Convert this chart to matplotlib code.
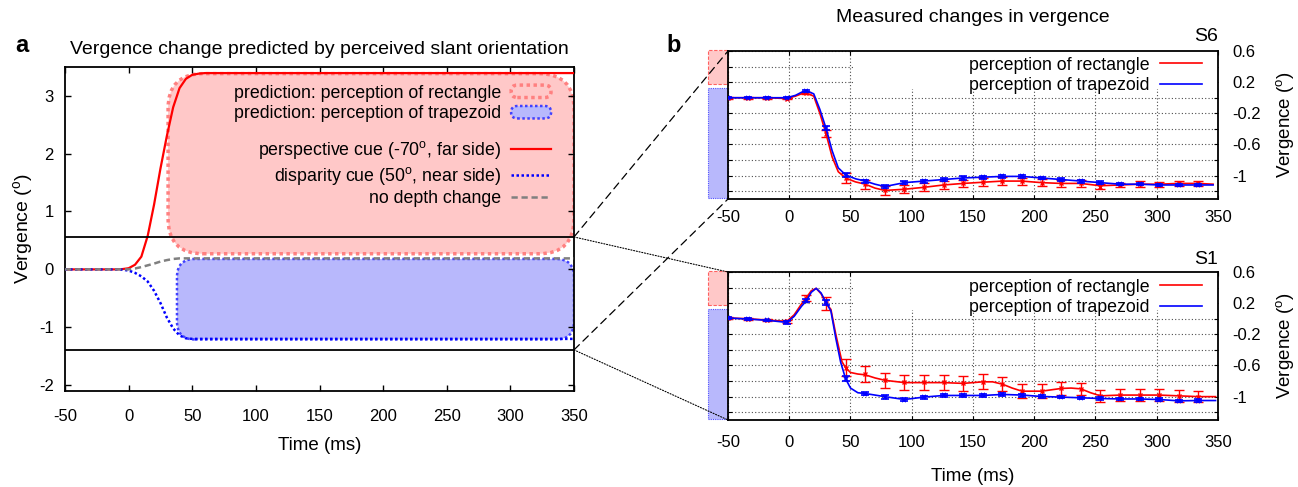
import matplotlib
matplotlib.use("Agg")
import matplotlib.pyplot as plt
from matplotlib.patches import FancyBboxPatch, Rectangle, ConnectionPatch
from matplotlib.legend_handler import HandlerPatch

plt.rcParams['font.family'] = ['Liberation Sans', 'DejaVu Sans']
plt.rcParams['mathtext.fontset'] = 'custom'
plt.rcParams['mathtext.rm'] = 'Liberation Sans'
plt.rcParams['mathtext.it'] = 'Liberation Sans:italic'
plt.rcParams['axes.unicode_minus'] = False

# ---- panel a : predicted vergence ----
time_a = [-50, -10, -5, 0, 5, 10, 15, 20, 25, 30, 35, 40, 45, 50, 55, 60, 350]
perspective_cue = [0, 0, 0.005, 0.02, 0.08, 0.22, 0.58, 1.12, 1.74, 2.3, 2.8, 3.13, 3.29, 3.36, 3.38, 3.39, 3.39]
disparity_cue = [0, 0, -0.005, -0.02, -0.06, -0.12, -0.21, -0.37, -0.58, -0.83, -1.02, -1.14, -1.19, -1.2, -1.2, -1.2, -1.2]
no_depth = [0, 0, 0, 0, 0.015, 0.04, 0.07, 0.1, 0.135, 0.16, 0.18, 0.19, 0.19, 0.19, 0.19, 0.19, 0.19]

# predicted zones: (t start, t end, v low, v high)
zone_rect = (31, 350, 0.27, 3.38)
zone_trap = (38, 350, -1.21, 0.18)
zoom_box = [0.56, -1.39]

# ---- panel b : measured vergence ----
times_b = [-50, -34, -18, -2, 14, 30, 46, 62, 78, 94, 110, 126, 142, 158,
           174, 190, 206, 222, 238, 254, 270, 286, 302, 318, 334]

s6_rect = [0, 0, 0, -0.01, 0.06, -0.46, -1.03, -1.11, -1.19, -1.175, -1.15, -1.12, -1.10,
           -1.085, -1.07, -1.07, -1.09, -1.10, -1.10, -1.14, -1.12, -1.11, -1.11, -1.10, -1.10]
s6_rect_err = [0.01, 0.01, 0.01, 0.01, 0.015, 0.05, 0.06, 0.06, 0.055, 0.05, 0.05, 0.05, 0.05,
               0.05, 0.05, 0.045, 0.045, 0.05, 0.045, 0.035, 0.03, 0.04, 0.03, 0.035, 0.03]
s6_trap = [0, 0, 0, 0, 0.09, -0.39, -0.99, -1.07, -1.14, -1.09, -1.07, -1.05, -1.03,
           -1.02, -1.01, -1.01, -1.03, -1.05, -1.07, -1.09, -1.11, -1.11, -1.12, -1.12, -1.12]
s6_trap_err = [0.008, 0.008, 0.008, 0.008, 0.015, 0.03, 0.03, 0.02, 0.02, 0.02, 0.02, 0.02, 0.02,
               0.02, 0.02, 0.02, 0.015, 0.02, 0.02, 0.02, 0.015, 0.015, 0.015, 0.015, 0.015]

s6_rect_line_t = [-50, -34, -18, -2, 5, 10, 14, 20, 25, 30, 35, 40, 46, 54, 62, 70, 78, 94, 110,
                  126, 142, 158, 174, 190, 206, 222, 238, 254, 270, 286, 302, 318, 334, 346]
s6_rect_line = [0, 0, 0, -0.01, 0.02, 0.05, 0.06, 0.02, -0.2, -0.46, -0.76, -0.95, -1.03, -1.08,
                -1.11, -1.16, -1.19, -1.175, -1.15, -1.12, -1.10, -1.085, -1.07, -1.07, -1.09,
                -1.10, -1.10, -1.13, -1.12, -1.11, -1.11, -1.10, -1.10, -1.11]
s6_trap_line_t = [-50, -34, -18, -2, 5, 10, 14, 20, 25, 30, 35, 40, 46, 54, 62, 70, 78, 94, 110,
                  126, 142, 158, 174, 190, 206, 222, 238, 254, 270, 286, 302, 318, 334, 346]
s6_trap_line = [0, 0, 0, 0, 0.03, 0.07, 0.09, 0.05, -0.15, -0.39, -0.68, -0.9, -0.99, -1.04,
                -1.07, -1.11, -1.14, -1.09, -1.07, -1.05, -1.03, -1.02, -1.01, -1.01, -1.03,
                -1.05, -1.07, -1.09, -1.11, -1.11, -1.12, -1.12, -1.12, -1.12]

s1_rect = [0.01, 0.0, -0.017, -0.034, 0.267, 0.2, -0.63, -0.71, -0.79, -0.817, -0.817, -0.817,
           -0.83, -0.81, -0.84, -0.93, -0.93, -0.895, -0.90, -0.99, -0.98, -0.98, -0.98, -0.99, -1.0]
s1_rect_err = [0.01, 0.01, 0.01, 0.015, 0.043, 0.085, 0.11, 0.1, 0.095, 0.097, 0.092, 0.092,
               0.097, 0.095, 0.092, 0.088, 0.09, 0.085, 0.08, 0.08, 0.08, 0.075, 0.08, 0.075, 0.07]
s1_trap = [0.01, -0.004, -0.02, -0.047, 0.23, 0.21, -0.77, -0.96, -1.0, -1.037, -1.006, -0.985,
           -0.985, -0.985, -0.972, -0.98, -0.998, -1.006, -1.015, -1.024, -1.03, -1.03, -1.037,
           -1.054, -1.05]
s1_trap_err = [0.01, 0.01, 0.01, 0.015, 0.02, 0.03, 0.03, 0.025, 0.025, 0.025, 0.02, 0.025,
               0.025, 0.025, 0.025, 0.02, 0.02, 0.015, 0.015, 0.015, 0.015, 0.015, 0.015, 0.015, 0.015]

s1_rect_line_t = [-50, -34, -18, -2, 4, 10, 14, 18, 22, 26, 30, 34, 38, 43, 46, 50, 56, 62, 70,
                  78, 94, 110, 126, 142, 158, 166, 174, 182, 190, 206, 222, 230, 238, 246, 254,
                  270, 286, 302, 318, 334, 348]
s1_rect_line = [0.01, 0.0, -0.017, -0.034, 0.05, 0.19, 0.27, 0.36, 0.39, 0.32, 0.2, 0.12, -0.2,
                -0.55, -0.63, -0.69, -0.71, -0.72, -0.76, -0.79, -0.82, -0.82, -0.82, -0.83,
                -0.81, -0.81, -0.84, -0.89, -0.93, -0.93, -0.895, -0.89, -0.9, -0.95, -0.99,
                -0.98, -0.98, -0.98, -0.99, -1.0, -1.0]
s1_trap_line_t = [-50, -34, -18, -2, 4, 10, 14, 18, 22, 26, 30, 34, 38, 42, 46, 50, 56, 62, 78,
                  94, 110, 126, 142, 158, 174, 190, 206, 222, 238, 254, 270, 286, 302, 318, 334, 348]
s1_trap_line = [0.01, -0.004, -0.02, -0.047, 0.03, 0.16, 0.23, 0.34, 0.39, 0.33, 0.21, 0.1,
                -0.25, -0.56, -0.77, -0.89, -0.95, -0.96, -1.0, -1.037, -1.006, -0.985, -0.985,
                -0.985, -0.972, -0.98, -0.998, -1.006, -1.015, -1.024, -1.03, -1.03, -1.037,
                -1.054, -1.05, -1.05]

strip_t = (-66, -50)
strip_rect = (0.17, 0.61)
strip_trap = (-1.29, 0.12)

xticks = [-50, 0, 50, 100, 150, 200, 250, 300, 350]
yticks_a = [-2, -1, 0, 1, 2, 3]
yticks_b = [0.6, 0.2, -0.2, -0.6, -1.0]
yticks_b_labels = ['0.6', '0.2', '-0.2', '-0.6', '-1']
yticks_b_minor = [0.4, 0.0, -0.4, -0.8, -1.2]

PINK = '#ffc8c8'
PINK_EDGE = '#ff8080'
LAV = '#b8b8fc'
LAV_EDGE = '#4040ff'
TICK_FS = 12
KEY_FS = 12.8
ylabel = r'Vergence ($^{\rm o}$)'

fig = plt.figure(figsize=(12.98, 4.87), dpi=100)
ax_a = fig.add_axes([0.05008, 0.19713, 0.39214, 0.66591])
ax_s6 = fig.add_axes([0.56086, 0.59138, 0.37750, 0.30390])
ax_s1 = fig.add_axes([0.56086, 0.13758, 0.37750, 0.30390])

# ---------------- panel a ----------------
ax_a.set_xlim(-50, 350)
ax_a.set_ylim(-2.1, 3.5)
px_x = ax_a.bbox.width / 400.0
px_y = ax_a.bbox.height / 5.6


def rounded_zone(ax, zone, radius_px, face, edge, lw):
    t0, t1, v0, v1 = zone
    patch = FancyBboxPatch((t0, v0), t1 - t0, v1 - v0,
                           boxstyle="round,pad=0,rounding_size=%f" % (radius_px / px_x),
                           mutation_aspect=px_x / px_y,
                           facecolor=face, edgecolor=edge, linewidth=lw,
                           linestyle=(0, (1, 1)), zorder=1)
    ax.add_patch(patch)
    return patch


pink_zone = rounded_zone(ax_a, zone_rect, 35, PINK, PINK_EDGE, 2.5)
blue_zone = rounded_zone(ax_a, zone_trap, 18, LAV, LAV_EDGE, 1.8)

l_red, = ax_a.plot(time_a, perspective_cue, color='red', lw=1.6, zorder=3)
l_blue, = ax_a.plot(time_a, disparity_cue, color='blue', lw=1.8, linestyle=(0, (1, 1)), zorder=3)
l_gray, = ax_a.plot(time_a, no_depth, color='gray', lw=1.8, linestyle=(0, (2.5, 1.5)), zorder=3)

for lvl in zoom_box:
    ax_a.axhline(lvl, color='black', lw=1.3, zorder=4)

ax_a.set_xticks(xticks)
ax_a.set_yticks(yticks_a)
ax_a.tick_params(direction='in', length=4, width=1, top=True, right=True, labelsize=TICK_FS)
ax_a.tick_params(axis='x', pad=13)
ax_a.tick_params(axis='y', pad=8)
for sp in ax_a.spines.values():
    sp.set_linewidth(1.3)
ax_a.set_xlabel('Time (ms)', fontsize=13.5, labelpad=9)
ax_a.set_ylabel(ylabel, fontsize=14, labelpad=3)
ax_a.set_title('Vergence change predicted by perceived slant orientation', fontsize=14, pad=9)


def capsule(legend, orig_handle, xdescent, ydescent, width, height, fontsize):
    return FancyBboxPatch((-xdescent, -ydescent), width, height,
                          boxstyle="round,pad=0,rounding_size=%f" % (height / 2))


leg1 = ax_a.legend([pink_zone, blue_zone],
                   ['prediction: perception of rectangle', 'prediction: perception of trapezoid'],
                   loc='upper right', bbox_to_anchor=(0.955, 0.945), markerfirst=False,
                   frameon=False, handlelength=2.25, handletextpad=0.56, labelspacing=0.22,
                   borderpad=0, borderaxespad=0, fontsize=KEY_FS,
                   handler_map={FancyBboxPatch: HandlerPatch(patch_func=capsule)})
ax_a.add_artist(leg1)
ax_a.legend([l_red, l_blue, l_gray],
            [r'perspective cue (-70$^{\rm o}$, far side)', r'disparity cue (50$^{\rm o}$, near side)',
             'no depth change'],
            loc='upper right', bbox_to_anchor=(0.955, 0.776), markerfirst=False,
            frameon=False, handlelength=2.25, handletextpad=0.56, labelspacing=0.2,
            borderpad=0, borderaxespad=0, fontsize=KEY_FS)

# ---------------- panel b ----------------
panels = [
    (ax_s6, 'S6', s6_rect_line_t, s6_rect_line, s6_rect, s6_rect_err,
     s6_trap_line_t, s6_trap_line, s6_trap, s6_trap_err, 8, 0.962, 7),
    (ax_s1, 'S1', s1_rect_line_t, s1_rect_line, s1_rect, s1_rect_err,
     s1_trap_line_t, s1_trap_line, s1_trap, s1_trap_err, 11, 0.955, 6),
]
for (ax, name, rt, rl, rv, re, bt, bl, bv, be, xpad, key_top, title_pad) in panels:
    ax.set_xlim(-50, 350)
    ax.set_ylim(-1.3, 0.6)
    ax.set_xticks(xticks)
    ax.set_yticks(yticks_b)
    ax.set_yticklabels(yticks_b_labels)
    ax.set_yticks(yticks_b_minor, minor=True)
    ax.grid(which='both', color='0.3', linestyle=(0, (1, 2)), linewidth=0.8)
    ax.tick_params(which='both', direction='in', length=3, width=0.8, top=True, right=True,
                   left=True, labelleft=False, labelright=True, labelsize=TICK_FS)
    ax.tick_params(axis='x', pad=xpad)
    ax.tick_params(axis='y', pad=10)
    for sp in ax.spines.values():
        sp.set_linewidth(1.3)
    ax.yaxis.set_label_position('right')
    ax.set_ylabel(ylabel, fontsize=13.5, labelpad=10)
    ax.set_title(name, loc='right', fontsize=14, pad=title_pad)

    # opaque key area as in the original
    ax.add_patch(Rectangle((0.26, 0.74), 0.74, 0.26, transform=ax.transAxes,
                           facecolor='white', edgecolor='none', zorder=1.6))

    # perceived zones next to the axis
    ax.add_patch(Rectangle((strip_t[0], strip_rect[0]), strip_t[1] - strip_t[0],
                           strip_rect[1] - strip_rect[0], facecolor=PINK, edgecolor='#ff6060',
                           linestyle=(0, (3, 1.5)), lw=0.8, clip_on=False))
    ax.add_patch(Rectangle((strip_t[0], strip_trap[0]), strip_t[1] - strip_t[0],
                           strip_trap[1] - strip_trap[0], facecolor=LAV, edgecolor='#5050ff',
                           linestyle=(0, (1, 1)), lw=0.8, clip_on=False))

    lr, = ax.plot(rt, rl, color='red', lw=1.2, zorder=3)
    ax.errorbar(times_b, rv, yerr=re, fmt='x', color='red', ms=3.5, mew=1,
                elinewidth=1, capsize=3.5, capthick=1, zorder=3)
    lb, = ax.plot(bt, bl, color='blue', lw=1.2, zorder=4)
    ax.errorbar(times_b, bv, yerr=be, fmt='x', color='blue', ms=3.5, mew=1.2,
                elinewidth=1, capsize=3, capthick=1, zorder=4)

    ax.legend([lr, lb], ['perception of rectangle', 'perception of trapezoid'],
              loc='upper right', bbox_to_anchor=(0.967, key_top), markerfirst=False,
              frameon=False, handlelength=2.36, handletextpad=0.56, labelspacing=0.2,
              borderpad=0, borderaxespad=0, fontsize=KEY_FS)

ax_s1.set_xlabel('Time (ms)', fontsize=13.5, labelpad=13)

# connector lines from the zoom box in panel a
for lvl, lim in zip(zoom_box, [0.6, -1.3]):
    fig.add_artist(ConnectionPatch(xyA=(350, lvl), coordsA=ax_a.transData,
                                   xyB=(-50, lim), coordsB=ax_s6.transData,
                                   color='black', lw=0.9, linestyle=(0, (6, 4))))
    fig.add_artist(ConnectionPatch(xyA=(350, lvl), coordsA=ax_a.transData,
                                   xyB=(-50, lim), coordsB=ax_s1.transData,
                                   color='black', lw=0.8, linestyle=(0, (1, 1.5))))

fig.text(15 / 1298, 1 - 45 / 487, 'a', fontsize=17, fontweight='bold', va='center')
fig.text(666 / 1298, 1 - 45 / 487, 'b', fontsize=17, fontweight='bold', va='center')
fig.text(973 / 1298, 1 - 18 / 487, 'Measured changes in vergence', fontsize=14,
         ha='center', va='center')

fig.savefig('out.png', dpi=100)
